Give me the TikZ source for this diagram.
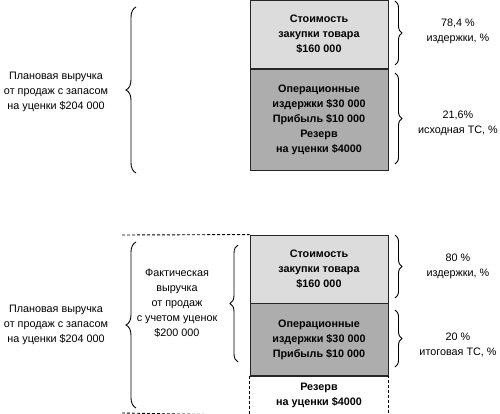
\documentclass[tikz,border=0pt]{standalone}
\usepackage{fontspec}
\setmainfont{Liberation Sans}
\usetikzlibrary{decorations.pathreplacing}
\definecolor{lightbox}{HTML}{DCDCDC}
\definecolor{darkbox}{HTML}{ADADAD}
\tikzset{
  box/.style={draw=black!85, line width=0.9pt, minimum width=138pt, inner sep=0pt, align=center, font=\fontsize{10.8}{15}\selectfont\bfseries},
  lbl/.style={align=center, font=\fontsize{10.8}{15}\selectfont, inner sep=0pt},
  brc/.style={decorate, decoration={brace, amplitude=7pt}, line width=0.9pt},
  dsh/.style={dashed, dash pattern=on 3pt off 2pt, line width=0.9pt}
}
\begin{document}
\begin{tikzpicture}[x=1pt,y=-1pt]
\useasboundingbox (0,0) rectangle (500,414);
% top part
\node[box, fill=lightbox, minimum height=68pt] (cost1) at (319,34.5) {Стоимость\\закупки товара\\\$160 000};
\node[box, fill=darkbox, minimum height=101pt, anchor=north] (op1) at (cost1.south) {Операционные\\издержки \$30 000\\Прибыль \$10 000\\Резерв\\на уценки \$4000};
\coordinate (b1a) at (395,1);
\coordinate (b1b) at (395,65);
\coordinate (b2a) at (395,73);
\coordinate (b2b) at (395,164);
\draw[brc] (b1a) -- (b1b);
\draw[brc] (b2a) -- (b2b);
\node[lbl] (p1) at (458,31) {78,4 \%\\издержки, \%};
\node[lbl] (p2) at (458,123) {21,6\%\\исходная ТС, \%};
\coordinate (lb1a) at (136,173);
\coordinate (lb1b) at (136,7);
\draw[brc, decoration={amplitude=10pt}] (lb1a) -- (lb1b);
\node[lbl] (plan1) at (56,92) {Плановая выручка\\от продаж с запасом\\на уценки \$204 000};
% bottom part
\node[box, fill=lightbox, minimum height=68pt] (cost2) at (319,269) {Стоимость\\закупки товара\\\$160 000};
\node[box, fill=darkbox, minimum height=72pt, anchor=north] (op2) at (cost2.south) {Операционные\\издержки \$30 000\\Прибыль \$10 000};
\node[box, draw=none, minimum height=38pt, anchor=north] (res2) at (op2.south) {Резерв\\на уценки \$4000};
\draw[dsh] (res2.north west) -- (res2.south west) -- (res2.south east) -- (res2.north east);
\draw[draw=black!85, line width=0.9pt] (op2.south west) -- (op2.south east);
\coordinate (dtl) at (122,235);
\coordinate (dbl) at (122,413);
\draw[dsh] (dtl) -- (cost2.north west);
\draw[dsh] (dbl) -- (res2.south west);
\coordinate (b3a) at (395,235);
\coordinate (b3b) at (395,298);
\coordinate (b4a) at (395,310);
\coordinate (b4b) at (395,367);
\draw[brc] (b3a) -- (b3b);
\draw[brc] (b4a) -- (b4b);
\node[lbl] (p3) at (458,266) {80 \%\\издержки, \%};
\node[lbl] (p4) at (458,345) {20 \%\\итоговая ТС, \%};
\coordinate (ib1a) at (238,362);
\coordinate (ib1b) at (238,245);
\draw[brc, decoration={amplitude=8pt}] (ib1a) -- (ib1b);
\node[lbl] (fact) at (177,303) {Фактическая\\выручка\\от продаж\\с учетом уценок\\\$200 000};
\coordinate (lb2a) at (136,408);
\coordinate (lb2b) at (136,242);
\draw[brc, decoration={amplitude=10pt}] (lb2a) -- (lb2b);
\node[lbl] (plan2) at (56,325) {Плановая выручка\\от продаж с запасом\\на уценки \$204 000};
\end{tikzpicture}
\end{document}
